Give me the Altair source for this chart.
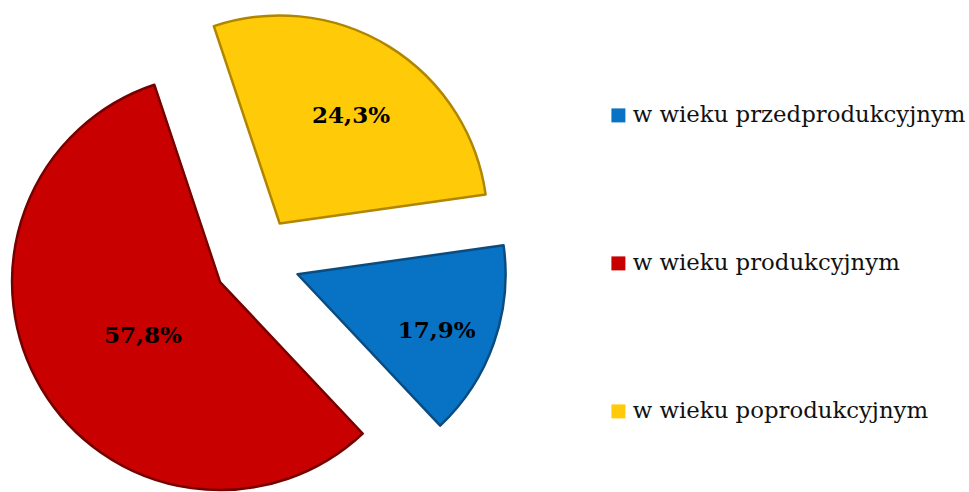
import math
import altair as alt
import pandas as pd

# ---- data ----
categories = ["w wieku przedprodukcyjnym", "w wieku produkcyjnym", "w wieku poprodukcyjnym"]
label_values = [17.9, 57.8, 24.3]          # percentages printed on the slices
slice_share = [15.2, 56.9, 27.9]           # angular share of each slice as drawn
slice_order = [0, 1, 2]
colors = ["#0873C4", "#C80000", "#FFCA08"]
strokes = ["#0B4C80", "#760000", "#B08600"]

df = pd.DataFrame({
    "kat": categories,
    "val": label_values,
    "share": slice_share,
    "ord": slice_order,
})
df["label"] = [f"{v:.1f}%".replace(".", ",") for v in label_values]

# ---- layout constants ----
START = 82 * math.pi / 180   # angle where the first slice begins (clockwise from 12 o'clock)
CX, CY = 257, 260            # pie centre in pixels
D = 43                       # explosion distance
R = 208                      # radius
FONT = "DejaVu Serif"

base = (
    alt.Chart(df)
    .transform_joinaggregate(total="sum(share)")
    .transform_window(cum="sum(share)", sort=[alt.SortField("ord")], frame=[None, 0])
    .transform_calculate(
        t0=f"{START} + 2*PI*(datum.cum - datum.share)/datum.total",
        t1=f"{START} + 2*PI*datum.cum/datum.total",
    )
    .transform_calculate(mid="(datum.t0 + datum.t1)/2", half="(datum.t1 - datum.t0)/2")
    .transform_calculate(
        cx=f"{CX} + {D}*sin(datum.mid)",
        cy=f"{CY} - {D}*cos(datum.mid)",
        lr=f"2*{R}*sin(datum.half)/(3*datum.half) + 14",
    )
    .transform_calculate(
        lx="datum.cx + datum.lr*sin(datum.mid)",
        ly="datum.cy - datum.lr*cos(datum.mid)",
    )
)

arcs = base.mark_arc(outerRadius=R, strokeWidth=2.5, strokeJoin="round").encode(
    theta=alt.Theta("t0:Q", scale=None),
    theta2="t1:Q",
    x=alt.X("cx:Q", scale=None),
    y=alt.Y("cy:Q", scale=None),
    color=alt.Color(
        "kat:N",
        scale=alt.Scale(domain=categories, range=colors),
        sort=categories,
        legend=alt.Legend(
            title=None,
            orient="none",
            legendX=607,
            legendY=104,
            direction="vertical",
            symbolType="square",
            symbolSize=196,
            symbolStrokeWidth=0,
            labelFont=FONT,
            labelFontSize=22.8,
            labelColor="#111111",
            labelOffset=3,
            labelLimit=400,
            rowPadding=124,
        ),
    ),
    stroke=alt.Stroke("kat:N", scale=alt.Scale(domain=categories, range=strokes), legend=None),
)

labels = base.mark_text(
    font=FONT, fontSize=23, fontWeight="bold", color="black", dy=8
).encode(
    x=alt.X("lx:Q", scale=None),
    y=alt.Y("ly:Q", scale=None),
    text="label:N",
)

chart = (
    alt.layer(arcs, labels)
    .properties(width=969, height=492, autosize=alt.AutoSizeParams(type="none"), padding=0)
    .configure_view(stroke=None)
)

chart.save("out.html", embed_options={"renderer": "svg", "actions": False})
